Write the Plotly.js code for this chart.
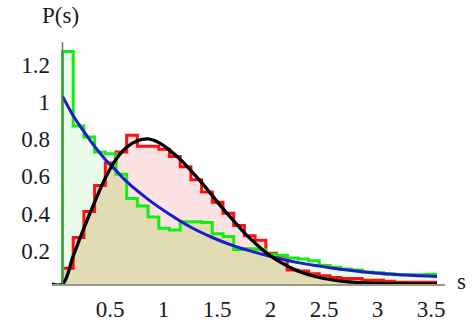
<!DOCTYPE html>
<html>
<head>
<meta charset="utf-8">
<script src="https://cdn.plot.ly/plotly-3.0.1.min.js"></script>
<style>html,body{margin:0;padding:0;background:#fff;}#chart{width:472px;height:322px;}</style>
</head>
<body>
<div id="chart"></div>
<script>
// Histogram bins (width 0.1 starting at s = 0)
const binStart = 0;
const binWidth = 0.1;
const greenHist = [1.25, 0.85, 0.79, 0.71, 0.70, 0.59, 0.46, 0.42, 0.36, 0.30,
                   0.29, 0.335, 0.335, 0.33, 0.27, 0.255, 0.185, 0.19, 0.185, 0.16,
                   0.155, 0.14, 0.135, 0.125, 0.10, 0.09, 0.08, 0.075, 0.065, 0.06,
                   0.055, 0.05, 0.05, 0.05, 0.052];
const redHist = [0.085, 0.25, 0.39, 0.53, 0.65, 0.71, 0.80, 0.74, 0.74, 0.725,
                 0.685, 0.63, 0.56, 0.495, 0.44, 0.38, 0.315, 0.26, 0.235, 0.165,
                 0.15, 0.075, 0.07, 0.055, 0.045, 0.035, 0.03, 0.03, 0.02, 0.02,
                 0.015, 0.01, 0.01, 0.01, 0.01];
// Blue curve
const blueS = [0, 0.1, 0.2, 0.3, 0.4, 0.5, 0.6, 0.8, 1.0, 1.2, 1.4, 1.6, 1.8, 2.0, 2.2, 2.4, 2.6, 2.8, 3.0, 3.2, 3.5];
const blueP = [1.01, 0.905, 0.82, 0.74, 0.67, 0.61, 0.55, 0.455, 0.375, 0.305, 0.25, 0.205, 0.17, 0.14, 0.115, 0.096, 0.079, 0.066, 0.055, 0.048, 0.04];
// Black curve
const blackS = [-0.1, 0, 0.1, 0.2, 0.3, 0.4, 0.5, 0.6, 0.7, 0.8, 0.9, 1.0, 1.1, 1.2, 1.3, 1.4, 1.5, 1.6, 1.7, 1.8, 1.9, 2.0, 2.2, 2.4, 2.6, 2.8, 3.0, 3.5];
const blackP = [0, 0, 0.15, 0.30, 0.44, 0.57, 0.67, 0.735, 0.77, 0.78, 0.76, 0.72, 0.67, 0.61, 0.545, 0.475, 0.405, 0.34, 0.275, 0.22, 0.17, 0.13, 0.07, 0.035, 0.016, 0.007, 0.003, 0.0];
// Axis ticks
const xTicks = [0.5, 1, 1.5, 2, 2.5, 3, 3.5];
const xTickText = ['0.5', '1', '1.5', '2', '2.5', '3', '3.5'];
const yTicks = [0.2, 0.4, 0.6, 0.8, 1, 1.2];
const yTickText = ['0.2', '0.4', '0.6', '0.8', '1', '1.2'];

function stepXY(vals) {
  const xs = [binStart], ys = [0];
  for (let i = 0; i < vals.length; i++) { xs.push(binStart + i * binWidth); ys.push(vals[i]); }
  xs.push(binStart + vals.length * binWidth); ys.push(vals[vals.length - 1]);
  return {x: xs, y: ys};
}
const g = stepXY(greenHist);
const r = stepXY(redHist);
const both = stepXY(greenHist.map((v, i) => Math.min(v, redHist[i])));

const traces = [
  {x: g.x, y: g.y, mode: 'lines', line: {shape: 'hv', width: 0, color: 'rgba(0,0,0,0)'}, fill: 'tozeroy', fillcolor: '#eafbea', hoverinfo: 'skip'},
  {x: r.x, y: r.y, mode: 'lines', line: {shape: 'hv', width: 0, color: 'rgba(0,0,0,0)'}, fill: 'tozeroy', fillcolor: '#fde2e4', hoverinfo: 'skip'},
  {x: both.x, y: both.y, mode: 'lines', line: {shape: 'hv', width: 0, color: 'rgba(0,0,0,0)'}, fill: 'tozeroy', fillcolor: '#e2dcb4', hoverinfo: 'skip'},
  {x: r.x, y: r.y, mode: 'lines', line: {shape: 'hv', width: 3, color: '#ff1010'}},
  {x: g.x, y: g.y, mode: 'lines', line: {shape: 'hv', width: 3, color: '#11ee11'}},
  {x: blueS, y: blueP, mode: 'lines', line: {shape: 'spline', width: 3, color: '#1c1ccc'}},
  {x: blackS, y: blackP, mode: 'lines', line: {shape: 'spline', width: 3.3, color: '#000000'}}
];

const font = {family: '"Liberation Serif", "Times New Roman", serif', size: 23, color: '#1a1a1a'};
const layout = {
  width: 472, height: 322,
  margin: {l: 52, r: 27, t: 42, b: 38, pad: 0, autoexpand: false},
  paper_bgcolor: '#ffffff', plot_bgcolor: '#ffffff',
  showlegend: false,
  font: font,
  xaxis: {range: [-0.0981, 3.5748], tickvals: xTicks, ticktext: xTickText, ticks: '', showgrid: false,
          zeroline: false, showline: true, linecolor: '#9a9684', linewidth: 2, tickfont: font,
          ticklabelshift: -6, ticklabelstandoff: 3, automargin: false, fixedrange: true},
  yaxis: {range: [0, 1.3011], tickvals: yTicks, ticktext: yTickText, ticks: '', showgrid: false,
          zeroline: false, showline: false, tickfont: font, ticklabelshift: 4, ticklabelstandoff: 1, automargin: false, fixedrange: true},
  shapes: [
    {type: 'line', xref: 'x', yref: 'paper', x0: 0, x1: 0, y0: 0, y1: 1, layer: 'above', line: {color: '#6f6f6f', width: 1.5}}
  ],
  annotations: [
    {text: 'P(s)', xref: 'paper', yref: 'paper', x: 0, y: 1, xshift: 8, yshift: 27, showarrow: false, font: font, xanchor: 'center', yanchor: 'middle'},
    {text: 's', xref: 'paper', yref: 'paper', x: 1, y: 0, xshift: 16, yshift: 3, showarrow: false, font: font, xanchor: 'center', yanchor: 'middle'}
  ]
};
Plotly.newPlot('chart', traces, layout, {staticPlot: true, displayModeBar: false});
</script>
</body>
</html>
